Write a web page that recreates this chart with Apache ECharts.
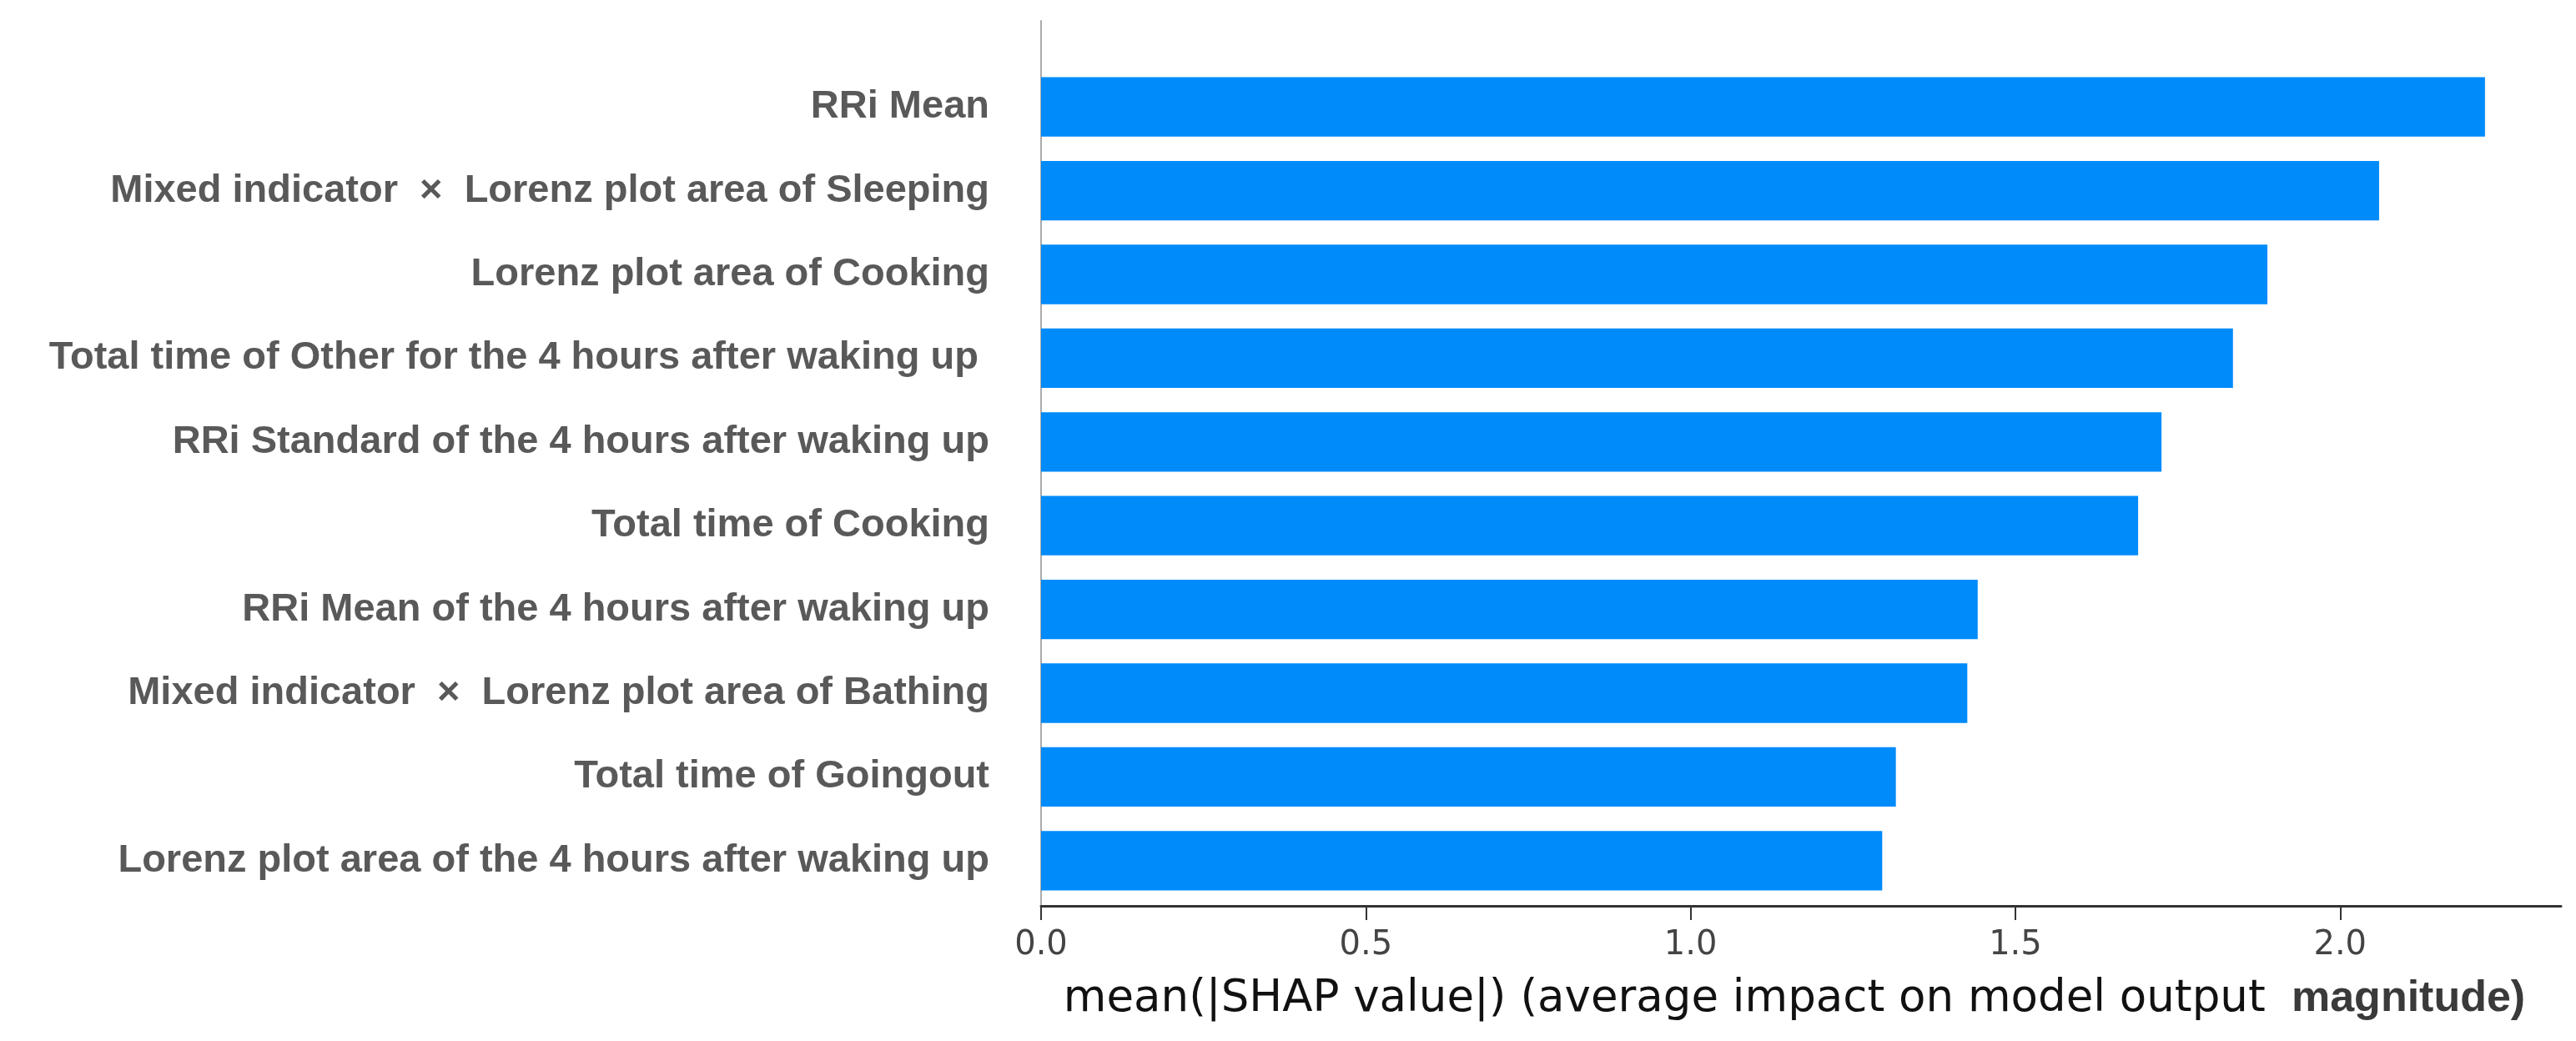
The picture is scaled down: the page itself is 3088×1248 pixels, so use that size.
<!DOCTYPE html>
<html>
<head>
<meta charset="utf-8">
<script src="https://cdn.jsdelivr.net/npm/echarts@6/dist/echarts.min.js"></script>
<style>html,body{margin:0;padding:0;background:#fff}#c{width:3088px;height:1248px}</style>
</head>
<body>
<div id="c"></div>
<script>
const categories = [
  'RRi Mean',
  'Mixed indicator  ×  Lorenz plot area of Sleeping',
  'Lorenz plot area of Cooking',
  'Total time of Other for the 4 hours after waking up ',
  'RRi Standard of the 4 hours after waking up',
  'Total time of Cooking',
  'RRi Mean of the 4 hours after waking up',
  'Mixed indicator  ×  Lorenz plot area of Bathing',
  'Total time of Goingout',
  'Lorenz plot area of the 4 hours after waking up'
];
const meanShap = [2.223, 2.060, 1.888, 1.835, 1.725, 1.689, 1.442, 1.426, 1.316, 1.295];
const xTicks = [0, 0.5, 1.0, 1.5, 2.0];
const xMin = 0, xMax = 2.34;

const chart = echarts.init(document.getElementById('c'), null, {renderer: 'canvas'});
chart.setOption({
  animation: false,
  backgroundColor: '#fff',
  grid: [
    {left: 1248, right: 18, top: 78, bottom: 166},
    {left: 1248, right: 18, top: 25, bottom: 162}
  ],
  xAxis: [
    {gridIndex: 0, type: 'value', min: xMin, max: xMax, show: false},
    {
      gridIndex: 1, type: 'value', min: xMin, max: xMax,
      axisLine: {show: true, lineStyle: {color: '#333', width: 3}},
      axisTick: {show: true, length: 17, lineStyle: {color: '#333', width: 2}, customValues: xTicks},
      axisLabel: {fontSize: 40, color: '#444', margin: 28, fontFamily: 'DejaVu Sans',
        customValues: xTicks, formatter: v => Number(v).toFixed(1)},
      splitLine: {show: false},
      name: '{a|mean(|SHAP value|) (average impact on model output }{b| magnitude)}',
      nameLocation: 'middle', nameGap: 82,
      nameTextStyle: {
        padding: [0, 16, 0, 0],
        rich: {
          a: {fontSize: 53, lineHeight: 60, fontFamily: 'DejaVu Sans', color: '#111'},
          b: {fontSize: 52, lineHeight: 60, fontFamily: 'Liberation Sans', fontWeight: 'bold', color: '#3a3a3a'}
        }
      }
    }
  ],
  yAxis: [
    {
      gridIndex: 0, type: 'category', data: categories, inverse: true,
      axisLine: {show: false}, axisTick: {show: false}, splitLine: {show: false},
      axisLabel: {fontSize: 47, fontWeight: 'bold', color: '#595959', margin: 62, fontFamily: 'Liberation Sans'}
    },
    {
      gridIndex: 1, type: 'value', min: 0, max: 1,
      axisLine: {show: true, lineStyle: {color: '#aaa', width: 2}},
      axisTick: {show: false}, axisLabel: {show: false}, splitLine: {show: false}
    }
  ],
  series: [{
    type: 'bar', xAxisIndex: 0, yAxisIndex: 0, data: meanShap,
    barWidth: '71%', itemStyle: {color: '#008BFB'}
  }]
});
</script>
</body>
</html>
